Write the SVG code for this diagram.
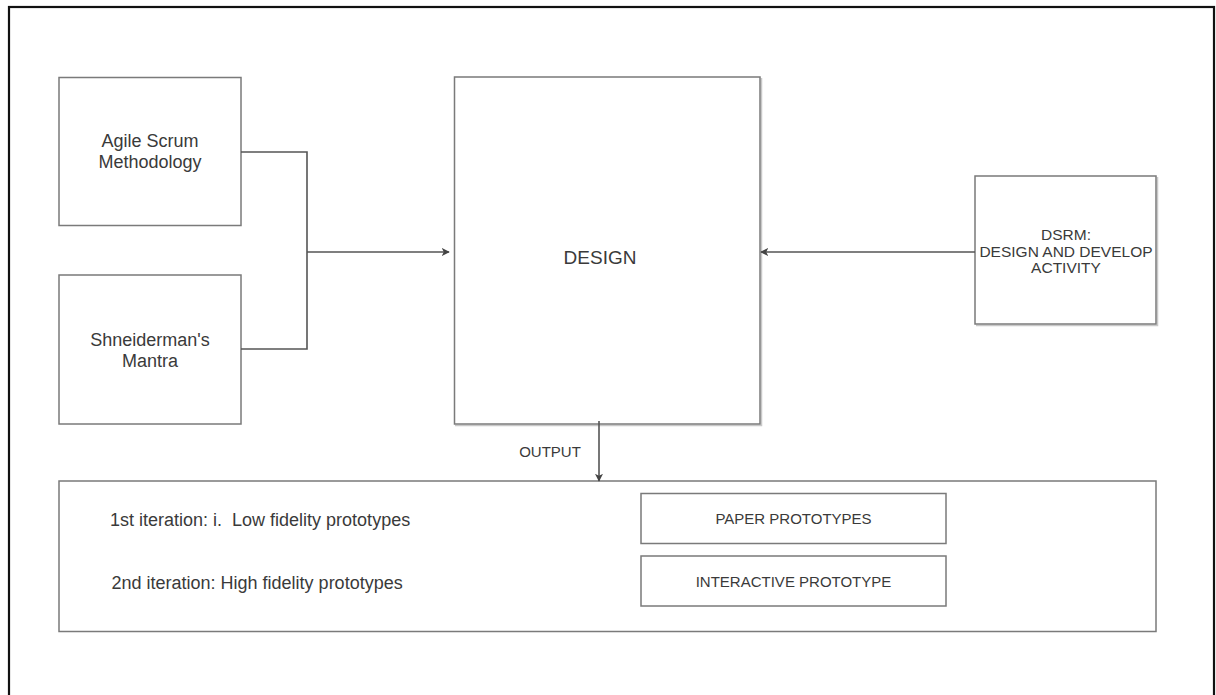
<svg xmlns="http://www.w3.org/2000/svg" width="1216" height="695" viewBox="0 0 1216 695">
<style>
.box{fill:#fff;stroke:#7a7a7a;stroke-width:1.5}
.sh{fill:none;stroke:#c8c8c8;stroke-width:1.5}
.t{font-family:"Liberation Sans",Arial,sans-serif;fill:#3a3a3a;text-anchor:middle}
.tl{font-family:"Liberation Sans",Arial,sans-serif;fill:#3a3a3a}
.c{fill:none;stroke:#555;stroke-width:1.6}
</style>
<defs>
<marker id="ah" viewBox="0 0 10 10" refX="9" refY="5" markerWidth="8" markerHeight="8" markerUnits="userSpaceOnUse" orient="auto">
<path d="M0,0 L10,5 L0,10 L2.5,5 Z" fill="#444"/>
</marker>
</defs>
<rect x="0" y="0" width="1216" height="695" fill="#fff"/>
<rect id="frame" x="9" y="7" width="1205" height="700" fill="none" stroke="#111" stroke-width="2.2"/>

<g id="agile">
<rect class="box" x="59" y="77.5" width="182" height="148"/>
<text class="t" x="150" y="147" font-size="18">Agile Scrum</text>
<text class="t" x="150" y="168" font-size="18">Methodology</text>
</g>

<g id="shneiderman">
<rect class="box" x="59" y="275" width="182" height="149"/>
<text class="t" x="150" y="346" font-size="18">Shneiderman's</text>
<text class="t" x="150" y="366.5" font-size="18">Mantra</text>
</g>

<g id="design">
<path class="sh" d="M761.5,78 V425.5 H455"/>
<rect class="box" x="454.5" y="77" width="305.5" height="347"/>
<text class="t" x="600" y="264" font-size="19">DESIGN</text>
</g>

<g id="dsrm">
<path class="sh" d="M1157.5,177 V325.5 H976"/>
<rect class="box" x="975" y="176" width="181" height="148"/>
<text class="t" x="1066" y="240" font-size="15.5">DSRM:</text>
<text class="t" x="1066" y="256.5" font-size="15.5">DESIGN AND DEVELOP</text>
<text class="t" x="1066" y="273" font-size="15.5">ACTIVITY</text>
</g>

<g id="output">
<rect class="box" x="59" y="481" width="1097" height="150.5"/>
<text class="tl" x="110" y="526" font-size="18" xml:space="preserve">1st iteration: i.  Low fidelity prototypes</text>
<text class="tl" x="111.5" y="588.5" font-size="18">2nd iteration: High fidelity prototypes</text>
</g>

<g id="paper">
<rect class="box" x="641" y="493.5" width="305" height="50"/>
<text class="t" x="793.5" y="524" font-size="15">PAPER PROTOTYPES</text>
</g>

<g id="interactive">
<rect class="box" x="641" y="556" width="305" height="50"/>
<text class="t" x="793.5" y="587" font-size="15">INTERACTIVE PROTOTYPE</text>
</g>

<g id="connectors">
<path class="c" d="M241,152 H307 V349 H241"/>
<path class="c" d="M307,252 H449" marker-end="url(#ah)"/>
<path class="c" d="M975,252 H761" marker-end="url(#ah)"/>
<path class="c" d="M599,421 V481" marker-end="url(#ah)"/>
<text class="t" x="550" y="457" font-size="15">OUTPUT</text>
</g>
</svg>
